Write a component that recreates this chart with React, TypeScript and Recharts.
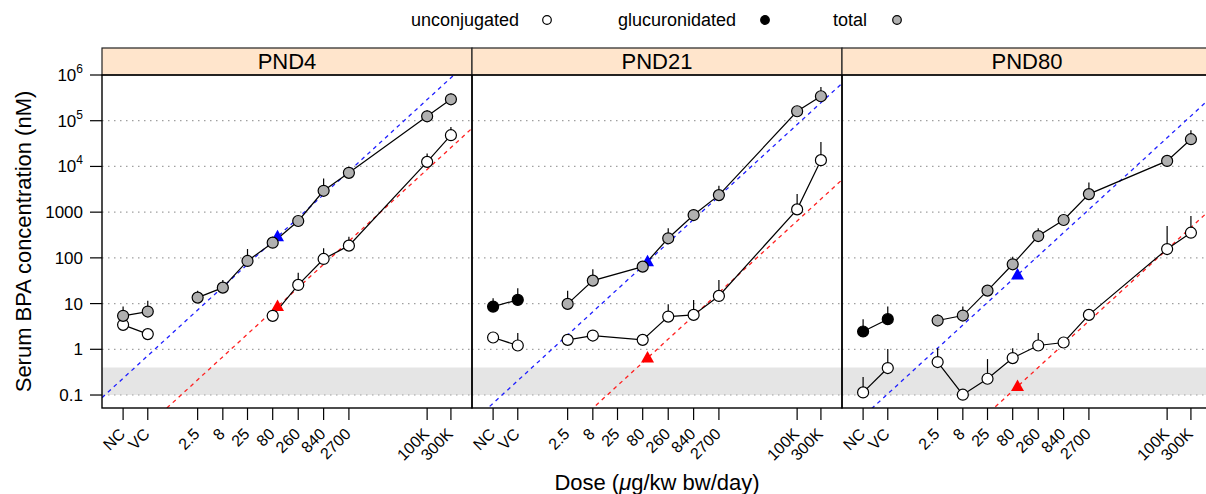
import React from 'react';
import {
  ComposedChart,
  Line,
  XAxis,
  YAxis,
  ReferenceArea,
  ReferenceLine,
  ReferenceDot,
  ErrorBar,
} from 'recharts';

// ---------- data ----------
const doseLabels = ['NC', 'VC', '2.5', '8', '25', '80', '260', '840', '2700', '100K', '300K'];
// NC / VC are placed at pseudo doses on the log axis
const doseValues = [0.08, 0.25, 2.5, 8, 25, 80, 260, 840, 2700, 100000, 300000];
const panelNames = ['PND4', 'PND21', 'PND80'];

const N = null;
// PND4
const pnd4Unconj = [3.43, 2.15, N, N, N, 5.4, 25.6, 94.6, 185, 12600, 48200];
const pnd4UnconjUpper = [3.6, 2.3, N, N, N, 5.6, 47.5, 162, 290, 19200, 73300];
const pnd4Gluc = [N, N, N, N, N, N, N, N, N, N, N];
const pnd4GlucUpper = [N, N, N, N, N, N, N, N, N, N, N];
const pnd4Total = [5.4, 6.7, 13.5, 22.3, 85.6, 215, 640, 2930, 7250, 125000, 294000];
const pnd4TotalUpper = [8.6, 11.5, 19, 32.9, 156, 290, 794, 5470, 9040, 169000, 393000];
// PND21
const pnd21Unconj = [1.81, 1.21, 1.61, 2.0, N, 1.61, 5.2, 5.66, 14.7, 1150, 13700];
const pnd21UnconjUpper = [2.0, 2.26, 1.8, 2.2, N, 1.8, 9.7, 12, 32.9, 2480, 34400];
const pnd21Gluc = [8.6, 12.05, N, N, N, N, N, N, N, N, N];
const pnd21GlucUpper = [13.1, 21.7, N, N, N, N, N, N, N, N, N];
const pnd21Total = [N, N, 9.85, 31.8, N, 64.3, 268, 865, 2360, 161000, 343000];
const pnd21TotalUpper = [N, N, 19.2, 56.4, N, 75, 443, 1000, 3770, 180000, 547000];
// PND80
const pnd80Unconj = [0.114, 0.389, 0.526, 0.1015, 0.227, 0.643, 1.21, 1.41, 5.66, 156, 355];
const pnd80UnconjUpper = [0.247, 1.01, 1.06, 0.11, 0.611, 1.06, 2.26, 1.5, 7.55, 497, 822];
const pnd80Gluc = [2.45, 4.56, N, N, N, N, N, N, N, N, N];
const pnd80GlucUpper = [4.56, 8.6, N, N, N, N, N, N, N, N, N];
const pnd80Total = [N, N, 4.26, 5.47, 19.2, 72.4, 300, 673, 2480, 13200, 39400];
const pnd80TotalUpper = [N, N, 5.8, 8.6, 22, 106, 443, 750, 4480, 14500, 62000];

// reference (triangle) levels at dose 100, lines of slope 1 through them
const triangleDose = 100;
const blueTriangleValues = [290, 82.6, 42.4];
const redTriangleValues = [8.6, 0.643, 0.154];

const bandRange = [0.1, 0.4];
const yTicks = [0.1, 1, 10, 100, 1000, 10000, 100000, 1000000];
const yTickLabels = ['0.1', '1', '10', '100', '1000', '10^4', '10^5', '10^6'];
const gridValues = [0.1, 1, 10, 100, 1000, 10000, 100000];
const xDomain: [number, number] = [0.0302, 794000];
const yDomain: [number, number] = [0.052, 1000000];

const legendItems = [
  { label: 'unconjugated', fill: '#ffffff' },
  { label: 'glucuronidated', fill: '#000000' },
  { label: 'total', fill: '#b0b0b0' },
];

// ---------- layout ----------
const W = 1206;
const H = 494;
const PLOT_TOP = 75;
const PLOT_BOTTOM = 408;
const PANEL_LEFT = 102;
const PANEL_W = 370;
const PANEL_PAD = 40;
const STRIP_TOP = 48;
const FONT = '"Liberation Sans", Arial, Helvetica, sans-serif';
const UNCONJ_FILL = '#ffffff';
const GLUC_FILL = '#000000';
const TOTAL_FILL = '#b0b0b0';

const CTRL = [0, 1];
const DOSES = [2, 3, 4, 5, 6, 7, 8, 9, 10];

type Row = { dose: number; v: number; err: [number, number] };
function buildRows(vals: (number | null)[], upper: (number | null)[], idx: number[]): Row[] {
  return idx
    .filter((i) => vals[i] != null)
    .map((i) => {
      const v = vals[i] as number;
      const u = upper[i] == null ? v : (upper[i] as number);
      return { dose: doseValues[i], v, err: [0, Math.max(0, u - v)] as [number, number] };
    });
}

const XTick = (props: any) => {
  const { x, y, payload } = props;
  const idx = doseValues.indexOf(payload.value);
  const label = idx >= 0 ? doseLabels[idx] : '';
  const ex = x + 3;
  const ey = y + 13;
  return (
    <text
      x={ex}
      y={ey}
      transform={`rotate(-45 ${ex} ${ey})`}
      textAnchor="end"
      fontSize={16}
      fontFamily={FONT}
      fill="#000"
    >
      {label}
    </text>
  );
};

const YTick = (props: any) => {
  const { x, y, payload } = props;
  const idx = yTicks.indexOf(payload.value);
  const label = idx >= 0 ? yTickLabels[idx] : '';
  const parts = label.split('^');
  return (
    <text x={x} y={y} dy={6} textAnchor="end" fontSize={17} fontFamily={FONT} fill="#000">
      {parts[0]}
      {parts.length > 1 && (
        <tspan dy={-8} fontSize={12}>
          {parts[1]}
        </tspan>
      )}
    </text>
  );
};

const makeTriangle = (color: string) => (props: any) => {
  const { cx, cy } = props;
  if (cx == null || cy == null) return <g />;
  return (
    <polygon
      points={`${cx},${cy - 7} ${cx - 6.5},${cy + 4.5} ${cx + 6.5},${cy + 4.5}`}
      fill={color}
      stroke="none"
    />
  );
};

type PanelProps = {
  index: number;
  unconj: (number | null)[];
  unconjUp: (number | null)[];
  gluc: (number | null)[];
  glucUp: (number | null)[];
  total: (number | null)[];
  totalUp: (number | null)[];
};

function Panel({ index, unconj, unconjUp, gluc, glucUp, total, totalUp }: PanelProps) {
  const showY = index === 0;
  const width = showY ? PANEL_LEFT + PANEL_W : PANEL_W + PANEL_PAD;
  const left = showY ? 0 : PANEL_LEFT + index * PANEL_W - PANEL_PAD;
  const marginLeft = showY ? 0 : PANEL_PAD;
  const blue = blueTriangleValues[index];
  const red = redTriangleValues[index];
  const blueC = blue / triangleDose;
  const redC = red / triangleDose;

  const series: { key: string; rows: Row[]; fill: string }[] = [
    { key: 'uc', rows: buildRows(unconj, unconjUp, CTRL), fill: UNCONJ_FILL },
    { key: 'ud', rows: buildRows(unconj, unconjUp, DOSES), fill: UNCONJ_FILL },
    { key: 'gc', rows: buildRows(gluc, glucUp, CTRL), fill: GLUC_FILL },
    { key: 'gd', rows: buildRows(gluc, glucUp, DOSES), fill: GLUC_FILL },
    { key: 'tc', rows: buildRows(total, totalUp, CTRL), fill: TOTAL_FILL },
    { key: 'td', rows: buildRows(total, totalUp, DOSES), fill: TOTAL_FILL },
  ].filter((s) => s.rows.length > 0);

  return (
    <div style={{ position: 'absolute', left, top: 0 }}>
      <ComposedChart
        width={width}
        height={H}
        margin={{ top: PLOT_TOP, right: 0, bottom: 0, left: marginLeft }}
      >
        <XAxis
          dataKey="dose"
          type="number"
          scale="log"
          domain={xDomain}
          allowDataOverflow
          ticks={doseValues}
          interval={0}
          tick={<XTick />}
          tickSize={12}
          tickLine={{ stroke: '#000', strokeWidth: 1.2 }}
          axisLine={false}
          height={H - PLOT_BOTTOM}
        />
        <YAxis
          type="number"
          scale="log"
          domain={yDomain}
          allowDataOverflow
          ticks={yTicks}
          interval={0}
          hide={!showY}
          width={PANEL_LEFT}
          tick={<YTick />}
          tickSize={12}
          tickMargin={7}
          tickLine={{ stroke: '#000', strokeWidth: 1.2 }}
          axisLine={false}
        />
        <ReferenceArea
          y1={bandRange[0]}
          y2={bandRange[1]}
          fill="#e5e5e5"
          fillOpacity={1}
          stroke="none"
          ifOverflow="hidden"
        />
        {gridValues.map((g) => (
          <ReferenceLine
            key={`g${g}`}
            y={g}
            stroke="#a0a0a0"
            strokeWidth={1.2}
            strokeDasharray="1.5 4.5"
          />
        ))}
        <ReferenceLine
          segment={[
            { x: xDomain[0], y: blueC * xDomain[0] },
            { x: xDomain[1], y: blueC * xDomain[1] },
          ]}
          stroke="#1f1fff"
          strokeWidth={1.3}
          strokeDasharray="4 4"
          ifOverflow="hidden"
        />
        <ReferenceLine
          segment={[
            { x: xDomain[0], y: redC * xDomain[0] },
            { x: xDomain[1], y: redC * xDomain[1] },
          ]}
          stroke="#ff2020"
          strokeWidth={1.3}
          strokeDasharray="4 4"
          ifOverflow="hidden"
        />
        <ReferenceDot
          x={triangleDose}
          y={blue}
          r={6}
          ifOverflow="visible"
          shape={makeTriangle('#0000ff')}
        />
        <ReferenceDot
          x={triangleDose}
          y={red}
          r={6}
          ifOverflow="visible"
          shape={makeTriangle('#ff0000')}
        />
        {series.map((s) => (
          <Line
            key={s.key}
            data={s.rows}
            dataKey="v"
            type="linear"
            stroke="#000"
            strokeWidth={1.2}
            isAnimationActive={false}
            activeDot={false}
            dot={{ r: 5.5, fill: s.fill, stroke: '#000', strokeWidth: 1.2 }}
          >
            <ErrorBar dataKey="err" width={0} stroke="#000" strokeWidth={1.2} direction="y" />
          </Line>
        ))}
      </ComposedChart>
    </div>
  );
}

export default function App() {
  const panelData = [
    { unconj: pnd4Unconj, unconjUp: pnd4UnconjUpper, gluc: pnd4Gluc, glucUp: pnd4GlucUpper, total: pnd4Total, totalUp: pnd4TotalUpper },
    { unconj: pnd21Unconj, unconjUp: pnd21UnconjUpper, gluc: pnd21Gluc, glucUp: pnd21GlucUpper, total: pnd21Total, totalUp: pnd21TotalUpper },
    { unconj: pnd80Unconj, unconjUp: pnd80UnconjUpper, gluc: pnd80Gluc, glucUp: pnd80GlucUpper, total: pnd80Total, totalUp: pnd80TotalUpper },
  ];
  const legendTextX = [411, 618, 833];
  const legendDotX = [547, 765, 897];

  return (
    <div
      style={{
        position: 'fixed',
        left: 0,
        top: 0,
        width: W,
        height: H,
        overflow: 'hidden',
        background: '#fff',
        fontFamily: FONT,
      }}
    >
      {panelData.map((p, i) => (
        <Panel key={panelNames[i]} index={i} {...p} />
      ))}
      <svg
        width={W}
        height={H}
        style={{ position: 'absolute', left: 0, top: 0, pointerEvents: 'none' }}
        fontFamily={FONT}
      >
        {/* legend */}
        {legendItems.map((it, i) => (
          <g key={it.label}>
            <text x={legendTextX[i]} y={26} fontSize={18} fill="#000">
              {it.label}
            </text>
            <circle cx={legendDotX[i]} cy={20} r={4.3} fill={it.fill} stroke="#000" strokeWidth={1.2} />
          </g>
        ))}
        {/* strips and frames */}
        {panelNames.map((name, i) => {
          const x0 = PANEL_LEFT + i * PANEL_W;
          return (
            <g key={name}>
              <rect
                x={x0}
                y={STRIP_TOP}
                width={PANEL_W}
                height={PLOT_TOP - STRIP_TOP}
                fill="#ffe5cc"
                stroke="#222"
                strokeWidth={1.2}
              />
              <text x={x0 + PANEL_W / 2} y={69} fontSize={22} textAnchor="middle" fill="#000">
                {name}
              </text>
              <rect
                x={x0}
                y={PLOT_TOP}
                width={PANEL_W}
                height={PLOT_BOTTOM - PLOT_TOP}
                fill="none"
                stroke="#000"
                strokeWidth={1.4}
              />
            </g>
          );
        })}
        {/* axis titles */}
        <text
          x={31}
          y={(PLOT_TOP + PLOT_BOTTOM) / 2}
          transform={`rotate(-90 31 ${(PLOT_TOP + PLOT_BOTTOM) / 2})`}
          textAnchor="middle"
          fontSize={22}
          fill="#000"
        >
          Serum BPA concentration (nM)
        </text>
        <text x={657} y={490} textAnchor="middle" fontSize={22} fill="#000">
          Dose (<tspan fontStyle="italic">μ</tspan>g/kw bw/day)
        </text>
      </svg>
    </div>
  );
}
